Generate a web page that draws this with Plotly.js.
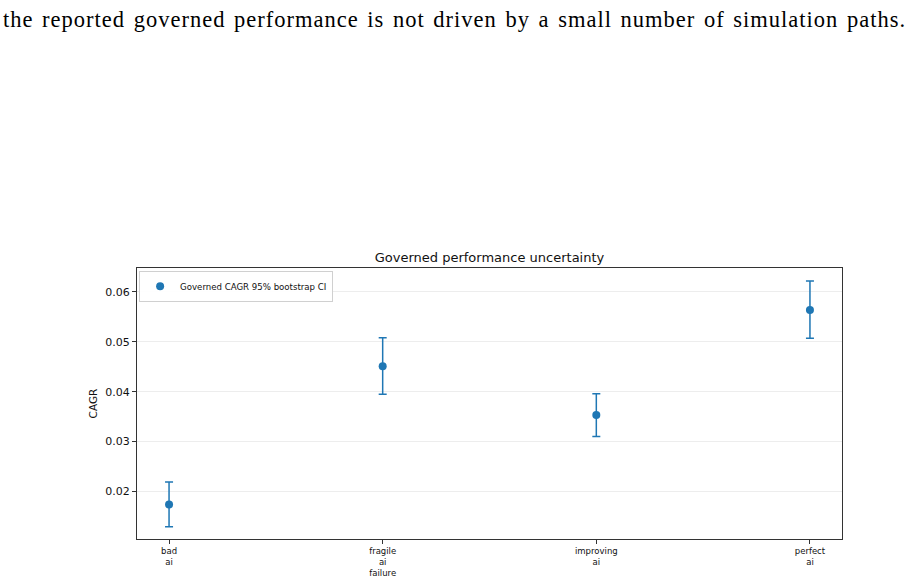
<!DOCTYPE html>
<html>
<head>
<meta charset="utf-8">
<script src="https://cdn.plot.ly/plotly-3.0.1.min.js"></script>
<style>
  html, body { margin: 0; padding: 0; background: #fff; }
  #chart { width: 915px; height: 582px; }
</style>
</head>
<body>
<div id="chart"></div>
<script>
// Data
const scenarios = ["bad ai", "fragile ai failure", "improving ai", "perfect ai"];
const tickLabels = ["bad<br>ai", "fragile<br>ai<br>failure", "improving<br>ai", "perfect<br>ai"];
const cagrMean = [0.0174, 0.0451, 0.0353, 0.0564];
const ciLower = [0.0129, 0.0395, 0.0310, 0.0507];
const ciUpper = [0.0219, 0.0508, 0.0396, 0.0622];

const errPlus = cagrMean.map((m, i) => ciUpper[i] - m);
const errMinus = cagrMean.map((m, i) => m - ciLower[i]);
const xIdx = scenarios.map((_, i) => i);

const blue = "#1f77b4";
const trace = {
  type: "scatter",
  mode: "markers",
  x: xIdx,
  y: cagrMean,
  name: "Governed CAGR 95% bootstrap CI",
  marker: { color: blue, size: 8 },
  error_y: {
    type: "data",
    symmetric: false,
    array: errPlus,
    arrayminus: errMinus,
    color: blue,
    thickness: 1.5,
    width: 4
  }
};

const layout = {
  width: 915,
  height: 582,
  margin: { l: 137, r: 73, t: 268, b: 43 },
  paper_bgcolor: "#ffffff",
  plot_bgcolor: "#ffffff",
  font: { family: "DejaVu Sans, sans-serif", color: "#222" },
  title: {
    text: "Governed performance uncertainty",
    font: { family: "DejaVu Sans", size: 13, color: "#111" },
    x: 0.5, xanchor: "center", xref: "paper",
    y: 1 - 257 / 582, yanchor: "middle", yref: "container"
  },
  showlegend: true,
  legend: {
    x: 0.003, y: 0.99, xanchor: "left", yanchor: "top",
    bgcolor: "rgba(255,255,255,0.9)",
    bordercolor: "#d0d0d0", borderwidth: 1,
    font: { family: "DejaVu Sans", size: 8.6, color: "#111" },
    itemwidth: 30, tracegroupgap: 0
  },
  xaxis: {
    range: [-0.15, 3.15],
    tickmode: "array",
    tickvals: xIdx,
    ticktext: tickLabels,
    tickfont: { family: "DejaVu Sans", size: 8.5, color: "#111" },
    ticks: "outside", ticklen: 4, tickwidth: 1, tickcolor: "#333",
    showgrid: false, zeroline: false,
    showline: true, linecolor: "#333", linewidth: 1, mirror: true
  },
  yaxis: {
    range: [0.01046, 0.0648],
    tickmode: "array",
    tickvals: [0.02, 0.03, 0.04, 0.05, 0.06],
    ticktext: ["0.02", "0.03", "0.04", "0.05", "0.06"],
    tickfont: { family: "DejaVu Sans", size: 11, color: "#111" },
    ticks: "outside", ticklen: 4, tickwidth: 1, tickcolor: "#333",
    showgrid: true, gridcolor: "#e8e8e8", gridwidth: 0.8,
    zeroline: false,
    showline: true, linecolor: "#333", linewidth: 1, mirror: true,
    title: { text: "CAGR", font: { family: "DejaVu Sans", size: 10.5, color: "#111" }, standoff: 5 }
  },
  annotations: [{
    text: "<span style=\"letter-spacing:1px;word-spacing:2px\">the reported governed performance is not driven by a small number of simulation paths.</span>",
    xref: "paper", yref: "paper",
    x: (1 - 137) / 705, y: 1 + (268 - 19) / 271,
    xanchor: "left", yanchor: "middle",
    showarrow: false,
    font: { family: "Liberation Serif, DejaVu Serif, serif", size: 22.5, color: "#000" }
  }]
};

Plotly.newPlot("chart", [trace], layout, { displayModeBar: false, staticPlot: true });
</script>
</body>
</html>
